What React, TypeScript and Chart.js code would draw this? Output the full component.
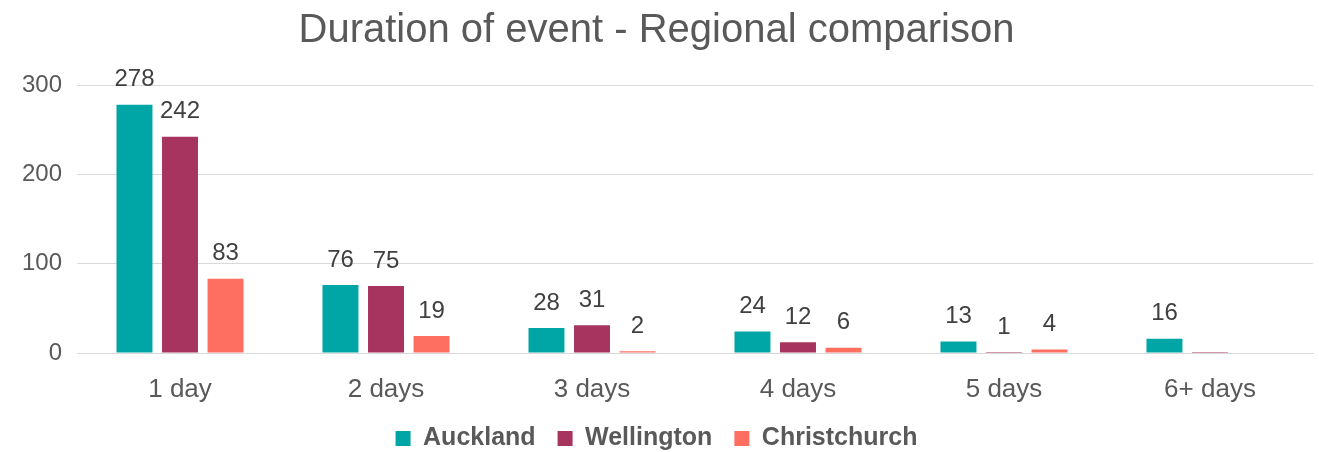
import React, { useEffect, useRef } from "react";
import { Chart, registerables } from "chart.js";

Chart.register(...registerables);

const categories = ["1 day", "2 days", "3 days", "4 days", "5 days", "6+ days"];
const auckland = [278, 76, 28, 24, 13, 16];
const wellington = [242, 75, 31, 12, 1, 0];
const christchurch = [83, 19, 2, 6, 4, null];
const yTicks = [0, 100, 200, 300];

const TEXT = "#595959";
const FONT = "'Liberation Sans', Arial, sans-serif";

const dataLabels = {
  id: "dataLabels",
  afterDatasetsDraw(chart: any) {
    const ctx = chart.ctx;
    ctx.save();
    ctx.font = `24px ${FONT}`;
    ctx.fillStyle = "#404040";
    ctx.textAlign = "center";
    ctx.textBaseline = "middle";
    chart.data.datasets.forEach((ds: any, di: number) => {
      const meta = chart.getDatasetMeta(di);
      meta.data.forEach((el: any, i: number) => {
        const v = ds.data[i];
        if (v === null || v === 0) return;
        ctx.fillText(String(v), el.x, el.y - 25);
      });
    });
    ctx.restore();
  },
};

export default function App() {
  const ref = useRef<HTMLCanvasElement | null>(null);
  useEffect(() => {
    if (!ref.current) return;
    const chart = new Chart(ref.current, {
      type: "bar",
      data: {
        labels: categories,
        datasets: [
          { label: "Auckland", data: auckland, backgroundColor: "#00A5A6" },
          { label: "Wellington", data: wellington, backgroundColor: "#A6345E", minBarLength: 1 },
          { label: "Christchurch", data: christchurch as any, backgroundColor: "#FF6F61" },
        ],
      },
      options: {
        responsive: false,
        animation: false,
        devicePixelRatio: 1,
        layout: { padding: { left: 0, right: 6, top: 0, bottom: -9 } },
        datasets: {
          bar: { categoryPercentage: 0.663, barPercentage: 0.79 },
        },
        plugins: {
          tooltip: { enabled: false },
          title: {
            display: true,
            text: "Duration of event - Regional comparison",
            color: TEXT,
            font: { family: FONT, size: 40, weight: "normal" },
            padding: { top: 7, bottom: 30 },
          },
          legend: {
            position: "bottom",
            labels: {
              color: TEXT,
              font: { family: FONT, size: 25, weight: "bold" },
              boxWidth: 15,
              boxHeight: 15,
              padding: 22,
            },
          },
        },
        scales: {
          x: {
            grid: { display: false, drawTicks: false },
            border: { display: true, color: "#D9D9D9", width: 1 },
            ticks: { color: TEXT, font: { family: FONT, size: 26 }, padding: 21 },
            afterFit: (s: any) => {
              s.height = 51;
            },
          },
          y: {
            min: 0,
            max: 300,
            afterBuildTicks: (s: any) => {
              s.ticks = yTicks.map((v) => ({ value: v }));
            },
            grid: { color: "#D9D9D9", lineWidth: 1, drawTicks: false },
            border: { display: false },
            ticks: { color: TEXT, font: { family: FONT, size: 24 }, padding: 15 },
            afterFit: (s: any) => {
              s.width = 77;
            },
          },
        },
      },
      plugins: [dataLabels],
    });
    return () => chart.destroy();
  }, []);
  return (
    <div style={{ position: "absolute", left: 0, top: 0, width: 1319, height: 452, background: "#fff" }}>
      <canvas ref={ref} width={1319} height={452} style={{ display: "block" }} />
    </div>
  );
}
